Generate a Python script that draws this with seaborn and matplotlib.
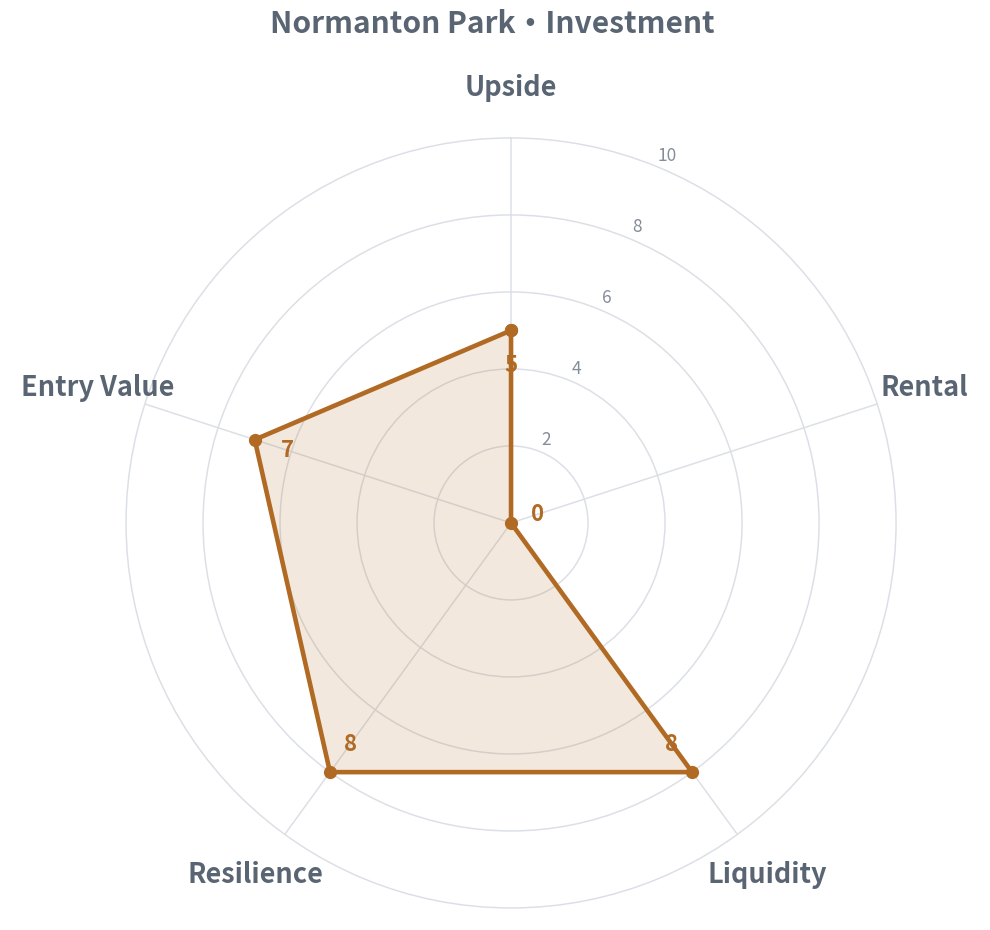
import numpy as np
import pandas as pd
import seaborn as sns
import matplotlib.pyplot as plt

categories = ["Upside", "Rental", "Liquidity", "Resilience", "Entry Value"]
scores = [5, 0, 8, 8, 7]
ring_ticks = [2, 4, 6, 8, 10]
title = "Normanton Park\u30fbInvestment"

line_color = "#B06A23"
grid_color = "#DCE0E6"
text_color = "#5A6573"
tick_color = "#848D9A"

sns.set_theme(style="white")
# Noto Sans CJK latin glyphs are close to the Source Sans look of the original
plt.rcParams["font.family"] = ["Noto Sans CJK JP", "DejaVu Sans"]

angles = np.deg2rad(np.arange(len(categories)) * 360 / len(categories))
df = pd.DataFrame({
    "theta": np.append(angles, angles[0]),
    "score": scores + scores[:1],
})

fig = plt.figure(figsize=(9.9, 9.3), dpi=100)
ax = fig.add_axes([0.1273, 0.0237, 0.7778, 0.828], projection="polar")
ax.set_theta_zero_location("N")
ax.set_theta_direction(-1)
ax.set_ylim(0, 10)

# grid: rings + spokes
ax.set_yticks(ring_ticks[:-1])
ax.set_yticklabels([])
ax.set_xticks(angles)
ax.set_xticklabels([])
ax.grid(True, color=grid_color, linewidth=1.1)
ax.spines["polar"].set_color(grid_color)
ax.spines["polar"].set_linewidth(1.1)

ax.fill(df["theta"], df["score"], color=line_color, alpha=0.15, zorder=2)
sns.lineplot(data=df, x="theta", y="score", sort=False, estimator=None, ax=ax,
             color=line_color, linewidth=3.3, marker="o", markersize=9.5,
             markeredgewidth=0, zorder=4)
ax.set_xlabel("")
ax.set_ylabel("")

# value labels, sit just inside each point
for a, v in zip(angles, scores):
    if v > 0:
        ax.text(a, v - 0.9, str(v), ha="center", va="center", fontsize=16,
                fontweight="bold", color=line_color, zorder=3)
    else:
        ax.text(angles[1], 0.72, str(v), ha="center", va="center", fontsize=16,
                fontweight="bold", color=line_color, zorder=3)

# ring tick labels
for t in ring_ticks:
    ax.text(np.deg2rad(23), t + 0.35, str(t), ha="center", va="center",
            fontsize=12.5, color=tick_color)

# category labels
for a, c in zip(angles, categories):
    ax.text(a, 11.3, c, ha="center", va="center", fontsize=19.5,
            fontweight="bold", color=text_color)

fig.text(0.497, 0.974, title, ha="center", va="center", fontsize=21.5,
         fontweight="bold", color=text_color)

fig.savefig("out.png", dpi=100)
